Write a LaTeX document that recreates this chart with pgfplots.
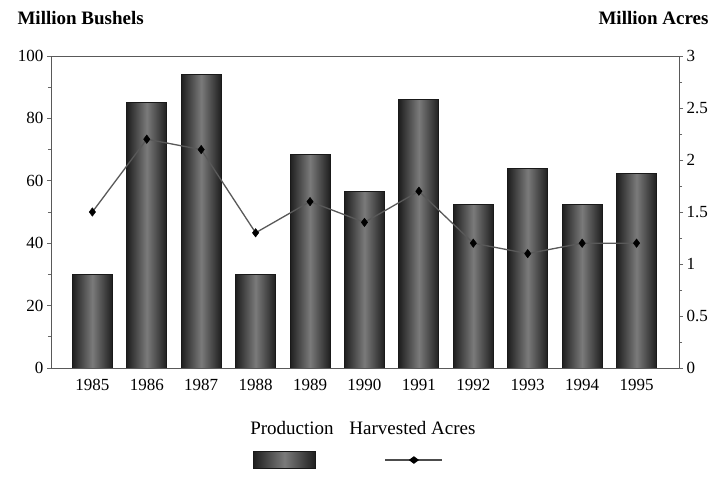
\documentclass[border=0pt]{standalone}
\usepackage{fontspec}
\setmainfont{Liberation Serif}
\usepackage{pgfplots}
\pgfplotsset{compat=1.18}
\newcommand{\tickfont}{\fontsize{17}{20}\selectfont}
\newcommand{\legfont}{\fontsize{19}{22}\selectfont}
\begin{document}
\begin{tikzpicture}[x=1pt,y=1pt]
\useasboundingbox (0,0) rectangle (728,481);
\tikzset{barfill/.style={left color=black!88, right color=black!88, middle color=black!52, draw=black!90, line width=0.8pt}}
\pgfplotsset{prodbar/.style={ybar, bar width=40pt, bar shift=0pt, barfill, mark=none}}
\begin{axis}[
  at={(51pt,113pt)}, anchor=south west, scale only axis,
  width=628pt, height=312pt,
  xmin=-0.76, xmax=10.78, ymin=0, ymax=100,
  ytick={0,20,...,100}, minor y tick num=1,
  ytick pos=left, xtick pos=bottom,
  xtick={0,...,10},
  xticklabels={1985,1986,1987,1988,1989,1990,1991,1992,1993,1994,1995},
  major x tick style={draw=none},
  tick align=outside, major tick length=4pt, minor tick length=3pt,
  tick style={black!60, line width=0.6pt},
  axis line style={black!65, line width=0.8pt},
  ticklabel style={font=\tickfont},
  /pgf/number format/assume math mode=true,
  xticklabel style={yshift=-4pt},
]
\addplot[prodbar] coordinates {(0,30)};
\addplot[prodbar] coordinates {(1,85)};
\addplot[prodbar] coordinates {(2,94)};
\addplot[prodbar] coordinates {(3,30)};
\addplot[prodbar] coordinates {(4,68.5)};
\addplot[prodbar] coordinates {(5,56.5)};
\addplot[prodbar] coordinates {(6,86)};
\addplot[prodbar] coordinates {(7,52.5)};
\addplot[prodbar] coordinates {(8,64)};
\addplot[prodbar] coordinates {(9,52.5)};
\addplot[prodbar] coordinates {(10,62.3)};
\end{axis}
\begin{axis}[
  at={(51pt,113pt)}, anchor=south west, scale only axis,
  width=628pt, height=312pt,
  xmin=-0.76, xmax=10.78, ymin=0, ymax=3,
  axis x line=none, axis y line*=right,
  ytick={0,0.5,...,3}, minor y tick num=1,
  tick align=outside, major tick length=4pt, minor tick length=3pt,
  tick style={black!60, line width=0.6pt},
  axis line style={black!65, line width=0.8pt},
  ticklabel style={font=\tickfont},
  /pgf/number format/assume math mode=true,
  legend columns=2,
  legend style={at={(0.4737,-0.295)}, anchor=center, draw=none, fill=none,
    inner sep=0pt, nodes={inner sep=0pt},
    /tikz/every even column/.style={column sep=68pt}},
]
\addlegendimage{legend image code/.code={\fill[barfill] (0pt,-8.5pt) rectangle (62pt,8.5pt);}}
\addlegendentry{}
\addplot[black!65, line width=1.3pt, mark=diamond*, mark size=4.2pt,
  mark options={fill=black, draw=black, line width=0.5pt},
  legend image code/.code={\draw[black!70, line width=1.2pt] (0pt,0pt) -- (57pt,0pt);
    \fill[black] (28.5pt,0pt) +(-4pt,0) -- +(0,3pt) -- +(4pt,0) -- +(0,-3pt) -- cycle;}]
  coordinates {(0,1.5) (1,2.2) (2,2.1) (3,1.3) (4,1.6) (5,1.4) (6,1.7) (7,1.2) (8,1.1) (9,1.2) (10,1.2)};
\addlegendentry{}
\end{axis}
\node[anchor=base west, font=\fontsize{19}{22}\selectfont\bfseries] at (14,456) {Million Bushels};
\node[anchor=base east, font=\fontsize{19}{22}\selectfont\bfseries] at (712,456) {Million Acres};
\node[anchor=base, font=\legfont] at (292,46) {Production};
\node[anchor=base, font=\legfont] at (412.5,46) {Harvested Acres};
\end{tikzpicture}
\end{document}
